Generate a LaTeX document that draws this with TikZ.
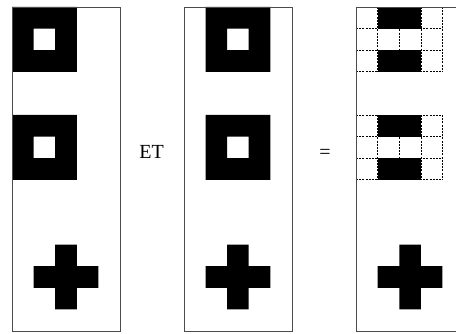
\documentclass[tikz,border=0pt]{standalone}
\usepackage{fontspec}
\setmainfont{Liberation Serif}
\begin{document}
\begin{tikzpicture}[
  x=21.6pt,y=-21.6pt,
  panel/.style={draw=black!70,line width=0.8pt},
  pix/.style={fill=black},
  gridline/.style={black,line width=0.7pt,dash pattern=on 2pt off 1.2pt},
  op/.style={font=\fontsize{20}{24}\selectfont,inner sep=0pt},
  ]
  \useasboundingbox (-0.556,-0.324) rectangle (20.556,15.139);
  \clip (-0.556,-0.324) rectangle (20.556,15.139);
  % first image
  \begin{scope}[xshift=0pt]
    \foreach \r in {0,5}
      \fill[pix,even odd rule] (0,\r) rectangle (3,\r+3) (1,\r+1) rectangle (2,\r+2);
    \fill[pix] (1,12) rectangle (4,13) (2,11) rectangle (3,14);
    \draw[panel] (0,0) rectangle (5,15);
  \end{scope}
  \node[op] (et) at (6.46,6.69) {ET};
  % second image
  \begin{scope}[xshift=7.96*21.6pt]
    \foreach \r in {0,5}
      \fill[pix,even odd rule] (1,\r) rectangle (4,\r+3) (2,\r+1) rectangle (3,\r+2);
    \fill[pix] (1,12) rectangle (4,13) (2,11) rectangle (3,14);
    \draw[panel] (0,0) rectangle (5,15);
  \end{scope}
  \node[op] (eq) at (14.49,6.78) {=};
  % result
  \begin{scope}[xshift=15.93*21.6pt]
    \foreach \r in {0,5} {
      \foreach \i in {0,...,3}
        \draw[gridline] (0,\r+\i) -- (4,\r+\i);
      \foreach \j in {1,...,4}
        \draw[gridline] (\j,\r) -- (\j,\r+3);
      \fill[pix] (1,\r) rectangle (3,\r+1);
      \fill[pix] (1,\r+2) rectangle (3,\r+3);
    }
    \fill[pix] (1,12) rectangle (4,13) (2,11) rectangle (3,14);
    \draw[panel] (0,0) rectangle (5,15);
  \end{scope}
\end{tikzpicture}
\end{document}
